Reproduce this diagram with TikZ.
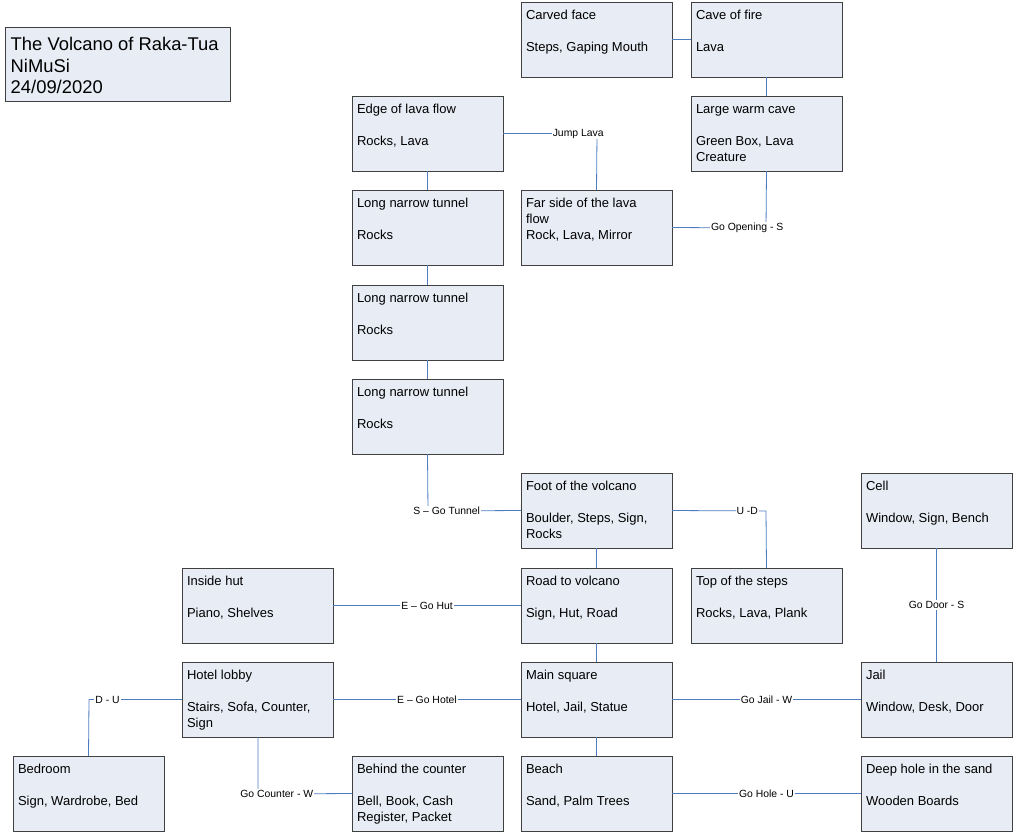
\documentclass[tikz,border=0pt]{standalone}
\usepackage{fontspec}
\setmainfont{Liberation Sans}
\begin{document}
\definecolor{boxfill}{HTML}{E8ECF5}
\definecolor{lnk}{HTML}{4F7CC0}
\begin{tikzpicture}[x=1pt,y=-1pt,
  box/.style={draw=black!75, fill=boxfill, anchor=north west, inner sep=5pt, outer sep=0pt,
    minimum width=151pt, minimum height=75pt},
  lk/.style={draw=lnk, line width=0.8pt},
  lbl/.style={fill=white, inner sep=1pt, font=\fontsize{10.4}{12}\selectfont}]
\useasboundingbox (0,0) rectangle (1014,833);
\newcommand\rb[1]{\parbox[t][65pt][t]{141pt}{\fontsize{13}{16}\selectfont\raggedright\vspace*{3.5pt}#1}}
\node[draw=black!75, fill=boxfill, anchor=north west, minimum width=225pt, minimum height=74pt, inner sep=5pt, align=left] (title) at (5,27)
  {\parbox[t][64pt][t]{214pt}{\fontsize{18.4}{21.5}\selectfont\vspace*{5pt}The Volcano of Raka-Tua\\NiMuSi\\24/09/2020}};
\node[box] (carved) at (521,2) {\rb{Carved face\\\mbox{}\\Steps, Gaping Mouth}};
\node[box] (fire) at (691,2) {\rb{Cave of fire\\\mbox{}\\Lava}};
\node[box] (edge) at (352,96) {\rb{Edge of lava flow\\\mbox{}\\Rocks, Lava}};
\node[box] (warm) at (691,96) {\rb{Large warm cave\\\mbox{}\\Green Box, Lava\\Creature}};
\node[box] (t1) at (352,190) {\rb{Long narrow tunnel\\\mbox{}\\Rocks}};
\node[box] (far) at (521,190) {\rb{Far side of the lava\\flow\\Rock, Lava, Mirror}};
\node[box] (t2) at (352,285) {\rb{Long narrow tunnel\\\mbox{}\\Rocks}};
\node[box] (t3) at (352,379) {\rb{Long narrow tunnel\\\mbox{}\\Rocks}};
\node[box] (foot) at (521,473) {\rb{Foot of the volcano\\\mbox{}\\Boulder, Steps, Sign,\\Rocks}};
\node[box] (cell) at (861,473) {\rb{Cell\\\mbox{}\\Window, Sign, Bench}};
\node[box] (hut) at (182,568) {\rb{Inside hut\\\mbox{}\\Piano, Shelves}};
\node[box] (road) at (521,568) {\rb{Road to volcano\\\mbox{}\\Sign, Hut, Road}};
\node[box] (top) at (691,568) {\rb{Top of the steps\\\mbox{}\\Rocks, Lava, Plank}};
\node[box] (lobby) at (182,662) {\rb{Hotel lobby\\\mbox{}\\Stairs, Sofa, Counter,\\Sign}};
\node[box] (square) at (521,662) {\rb{Main square\\\mbox{}\\Hotel, Jail, Statue}};
\node[box] (jail) at (861,662) {\rb{Jail\\\mbox{}\\Window, Desk, Door}};
\node[box] (bed) at (13,756) {\rb{Bedroom\\\mbox{}\\Sign, Wardrobe, Bed}};
\node[box] (behind) at (352,756) {\rb{Behind the counter\\\mbox{}\\Bell, Book, Cash\\Register, Packet}};
\node[box] (beach) at (521,756) {\rb{Beach\\\mbox{}\\Sand, Palm Trees}};
\node[box] (hole) at (861,756) {\rb{Deep hole in the sand\\\mbox{}\\Wooden Boards}};
% connectors
\draw[lk] (carved.east) -- (fire.west);
\draw[lk] (fire.south) -- (warm.north);
\draw[lk] (edge.east) -- (597,133.5) node[lbl,pos=0.8]{Jump Lava} -- (far.north);
\draw[lk] (edge.south) -- (t1.north);
\draw[lk] (warm.south) -- (766,228) -- (far.east) node[lbl,pos=0.2]{Go Opening - S};
\draw[lk] (t1.south) -- (t2.north);
\draw[lk] (t2.south) -- (t3.north);
\draw[lk] (t3.south) -- (428,511) -- (foot.west) node[lbl,pos=0.2]{S -- Go Tunnel};
\draw[lk] (foot.east) -- (766,511) node[lbl,pos=0.8]{U -D} -- (top.north);
\draw[lk] (foot.south) -- (road.north);
\draw[lk] (cell.south) -- (jail.north) node[lbl,midway]{Go Door - S};
\draw[lk] (hut.east) -- (road.west) node[lbl,midway]{E -- Go Hut};
\draw[lk] (road.south) -- (square.north);
\draw[lk] (lobby.east) -- (square.west) node[lbl,midway]{E -- Go Hotel};
\draw[lk] (square.east) -- (jail.west) node[lbl,midway]{Go Jail - W};
\draw[lk] (lobby.west) -- (89,699.5) node[lbl,pos=0.8]{D - U} -- (bed.north);
\draw[lk] (258,737) -- (258,794) -- (behind.west) node[lbl,pos=0.2]{Go Counter - W};
\draw[lk] (square.south) -- (beach.north);
\draw[lk] (beach.east) -- (hole.west) node[lbl,midway]{Go Hole - U};
\end{tikzpicture}
\end{document}
